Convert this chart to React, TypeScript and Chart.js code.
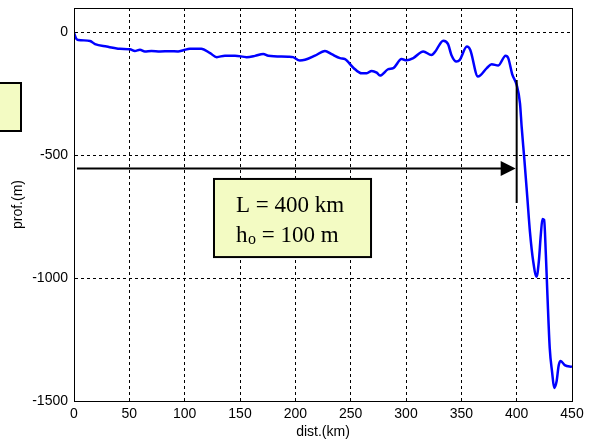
import React, { useEffect, useRef } from "react";
import { Chart, registerables } from "chart.js";

Chart.register(...registerables);

const dist: number[] = [
  0, 2, 4, 14.5, 19, 29.5, 41.5, 50.6, 55, 59.6, 64, 70, 77.7, 86.7, 94, 98.8,
  104.8, 115, 123, 129, 136.4, 145.5, 156, 163.5, 171, 175.6, 193.6, 198, 204,
  208.7, 217.7, 226.8, 232.8, 240.4, 244.9, 252.4, 260, 264.5, 269, 273.5,
  276.5, 284, 288.5, 296, 300.5, 306.6, 315.6, 323, 326, 333.7, 338, 341,
  345.6, 348.6, 355, 358, 365, 373, 377.4, 383.4, 390, 392.4, 396, 400, 403,
  404.5, 407, 409.6, 412, 415, 418, 420, 421.8, 423.3, 424.8, 426.4, 427.8,
  429.9, 432, 433.9, 436, 438, 439.8, 443.4, 450,
];
const depth: number[] = [
  0, -25, -30, -34, -47, -57, -66, -68, -75, -70, -77, -75, -77, -76, -77, -72,
  -66, -66, -84, -100, -94, -94, -100, -95, -87, -94, -98, -100, -114, -111,
  -94, -75, -88, -104, -108, -143, -166, -166, -156, -163, -175, -149, -145,
  -108, -113, -104, -77, -91, -80, -33, -47, -91, -118, -111, -57, -70, -179,
  -145, -129, -134, -94, -104, -170, -213, -288, -383, -519, -670, -811, -933,
  -994, -933, -824, -759, -763, -906, -1069, -1286, -1381, -1447, -1422, -1354,
  -1337, -1354, -1361,
];

const xTicks: number[] = [0, 50, 100, 150, 200, 250, 300, 350, 400, 450];
const yTicks: number[] = [-1500, -1000, -500, 0];

const xTitle = "dist.(km)";
const yTitle = "prof.(m)";
const boxLine1 = "L = 400 km";
const boxLine2Main = "h";
const boxLine2Sub = "o";
const boxLine2Rest = " = 100 m";

// annotation anchors in data units
const arrowY = -553;
const arrowStartX = 2.7;
const arrowEndX = 400;
const vLineX = 400;
const vLineTop = -193;
const vLineBottom = -694;
const boxX0 = 126.5;
const boxX1 = 268.4;
const boxY0 = -596;
const boxY1 = -914;

const YELLOW = "#f3fbc3";

const annotPlugin = {
  id: "annot",
  afterDraw(chart: any) {
    const { ctx, chartArea } = chart;
    const xs = chart.scales.x;
    const ys = chart.scales.y;
    ctx.save();
    // frame box
    ctx.strokeStyle = "#000";
    ctx.lineWidth = 1;
    ctx.setLineDash([]);
    ctx.strokeRect(
      Math.round(chartArea.left) + 0.5,
      Math.round(chartArea.top) + 0.5,
      Math.round(chartArea.right - chartArea.left),
      Math.round(chartArea.bottom - chartArea.top)
    );

    // arrow
    const ay = ys.getPixelForValue(arrowY);
    const ax0 = xs.getPixelForValue(arrowStartX);
    const ax1 = xs.getPixelForValue(arrowEndX);
    ctx.lineWidth = 2;
    ctx.beginPath();
    ctx.moveTo(ax0, ay);
    ctx.lineTo(ax1 - 12, ay);
    ctx.stroke();
    ctx.fillStyle = "#000";
    ctx.beginPath();
    ctx.moveTo(ax1 - 1, ay);
    ctx.lineTo(ax1 - 16, ay - 7.5);
    ctx.lineTo(ax1 - 16, ay + 7.5);
    ctx.closePath();
    ctx.fill();

    // vertical line
    const vx = xs.getPixelForValue(vLineX);
    ctx.beginPath();
    ctx.moveTo(vx, ys.getPixelForValue(vLineTop));
    ctx.lineTo(vx, ys.getPixelForValue(vLineBottom));
    ctx.stroke();

    // text box
    const bx0 = xs.getPixelForValue(boxX0);
    const bx1 = xs.getPixelForValue(boxX1);
    const by0 = ys.getPixelForValue(boxY0);
    const by1 = ys.getPixelForValue(boxY1);
    ctx.fillStyle = YELLOW;
    ctx.fillRect(bx0, by0, bx1 - bx0, by1 - by0);
    ctx.lineWidth = 2;
    ctx.strokeStyle = "#000";
    ctx.strokeRect(bx0, by0, bx1 - bx0, by1 - by0);
    ctx.fillStyle = "#000";
    ctx.textAlign = "left";
    ctx.textBaseline = "alphabetic";
    ctx.font = '23px "Liberation Serif", "Times New Roman", serif';
    const tx = bx0 + 22;
    ctx.fillText(boxLine1, tx, by0 + 33.5);
    const l2y = by0 + 63.5;
    ctx.fillText(boxLine2Main, tx, l2y);
    let w = ctx.measureText(boxLine2Main).width;
    ctx.font = '16px "Liberation Serif", "Times New Roman", serif';
    ctx.fillText(boxLine2Sub, tx + w + 0.5, l2y + 1.5);
    w += ctx.measureText(boxLine2Sub).width + 0.5;
    ctx.font = '23px "Liberation Serif", "Times New Roman", serif';
    ctx.fillText(boxLine2Rest, tx + w, l2y);

    // clipped legend-like box at far left
    ctx.fillStyle = YELLOW;
    ctx.fillRect(-3, 83, 24, 48);
    ctx.lineWidth = 2;
    ctx.strokeStyle = "#000";
    ctx.strokeRect(-3, 83, 24, 48);
    ctx.restore();
  },
};

export default function App() {
  const ref = useRef<HTMLCanvasElement>(null);
  useEffect(() => {
    if (!ref.current) return;
    const font = { family: '"Liberation Sans", Arial, sans-serif', size: 14 };
    const chart = new Chart(ref.current, {
      type: "scatter",
      data: {
        datasets: [
          {
            data: dist.map((d, i) => ({ x: d, y: depth[i] })),
            showLine: true,
            borderColor: "#0000ff",
            borderWidth: 2.5,
            pointRadius: 0,
            cubicInterpolationMode: "monotone",
            fill: false,
          },
        ],
      },
      options: {
        responsive: false,
        animation: false,
        devicePixelRatio: 1,
        layout: { padding: { left: 0, right: 17, top: 8, bottom: 0 } },
        plugins: { legend: { display: false }, tooltip: { enabled: false } },
        scales: {
          x: {
            type: "linear",
            min: 0,
            max: 450,
            afterBuildTicks: (s: any) => {
              s.ticks = xTicks.map((v) => ({ value: v }));
            },
            afterFit: (s: any) => {
              s.height = 44;
              s.paddingLeft = 0;
              s.paddingRight = 0;
            },
            grid: { color: "#000", lineWidth: 1, drawTicks: false },
            border: { display: true, color: "#000", width: 1, dash: [3, 3] },
            ticks: { color: "#000", font, padding: 5, maxRotation: 0, callback: (v: any) => String(v) },
            title: {
              display: true,
              text: xTitle,
              color: "#000",
              font,
              padding: { top: 0, bottom: 4 },
            },
          },
          y: {
            type: "linear",
            min: -1500,
            max: 100,
            afterBuildTicks: (s: any) => {
              s.ticks = yTicks.map((v) => ({ value: v }));
            },
            afterFit: (s: any) => {
              s.width = 74;
              s.paddingTop = 0;
              s.paddingBottom = 0;
            },
            grid: { color: "#000", lineWidth: 1, drawTicks: false },
            border: { display: true, color: "#000", width: 1, dash: [3, 3] },
            ticks: { color: "#000", font, padding: 6, callback: (v: any) => String(v) },
            title: {
              display: true,
              text: yTitle,
              color: "#000",
              font,
              padding: { top: 10, bottom: 0 },
            },
          },
        },
      },
      plugins: [annotPlugin],
    } as any);
    return () => chart.destroy();
  }, []);
  return (
    <div style={{ position: "absolute", left: 0, top: 0, width: 589, height: 445, background: "#fff" }}>
      <canvas ref={ref} width={589} height={445} style={{ display: "block" }} />
    </div>
  );
}
